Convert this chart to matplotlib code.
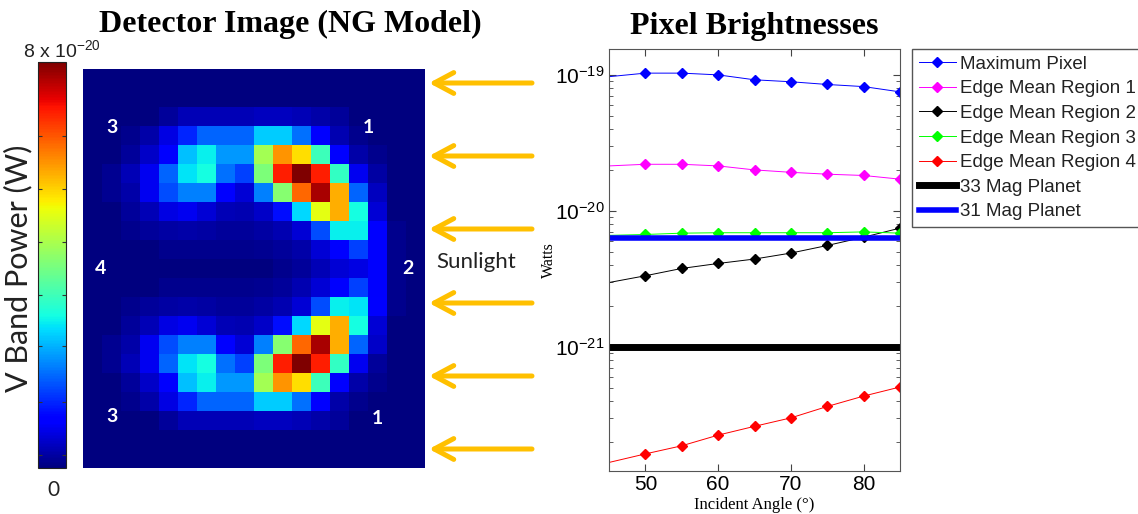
import numpy as np
import matplotlib
matplotlib.use("Agg")
import matplotlib.pyplot as plt
from matplotlib.patches import FancyArrowPatch

W, H = 1138, 514
plt.rcParams['font.family'] = ['Liberation Sans', 'DejaVu Sans']
plt.rcParams['mathtext.fontset'] = 'custom'
plt.rcParams['mathtext.rm'] = 'Liberation Sans'
plt.rcParams['mathtext.it'] = 'Liberation Sans:italic'

# detector image (V band power, units of 1e-20 W), 21 rows x 18 columns
detector = np.array([
    [0, 0, 0, 0, 0, 0, 0, 0, 0, 0, 0, 0, 0, 0, 0, 0, 0, 0],
    [0, 0, 0, 0, 0, 0, 0, 0, 0, 0, 0, 0, 0, 0, 0, 0, 0, 0],
    [0, 0, 0, 0, 0.2, 0.4, 0.4, 0.4, 0.4, 0.45, 0.45, 0.4, 0.3, 0.2, 0, 0, 0, 0],
    [0, 0, 0.1, 0.3, 0.7, 1.3, 1.8, 1.8, 1.8, 2.6, 2.6, 1.9, 1.0, 0.35, 0.1, 0, 0, 0],
    [0, 0, 0.2, 0.5, 1.0, 2.5, 2.9, 2.2, 2.2, 4.4, 6.0, 5.4, 3.4, 1.0, 0.3, 0.1, 0, 0],
    [0, 0.15, 0.4, 0.8, 1.8, 2.8, 3.0, 1.9, 1.5, 4.0, 7.0, 8.0, 7.0, 3.3, 0.8, 0.25, 0, 0],
    [0, 0.15, 0.3, 0.8, 1.6, 2.0, 2.0, 1.0, 0.6, 2.0, 4.1, 6.4, 7.7, 5.8, 1.8, 0.45, 0, 0],
    [0, 0, 0.2, 0.4, 0.7, 0.8, 0.6, 0.4, 0.35, 0.5, 1.1, 2.7, 5.0, 5.8, 3.0, 0.6, 0, 0],
    [0, 0, 0.1, 0.2, 0.25, 0.3, 0.25, 0.2, 0.2, 0.25, 0.35, 0.6, 1.6, 2.9, 2.9, 1.0, 0.1, 0],
    [0, 0, 0, 0, 0.1, 0.1, 0.1, 0.1, 0.1, 0.15, 0.2, 0.3, 0.6, 0.95, 1.5, 0.9, 0.1, 0],
    [0, 0, 0, 0, 0, 0, 0, 0, 0, 0, 0.1, 0.2, 0.4, 0.6, 0.7, 0.9, 0.1, 0],
    [0, 0, 0, 0, 0.1, 0.1, 0.1, 0.1, 0.1, 0.15, 0.2, 0.35, 0.6, 1.0, 1.5, 0.9, 0.1, 0],
    [0, 0, 0.1, 0.2, 0.25, 0.3, 0.25, 0.2, 0.2, 0.25, 0.35, 0.6, 1.6, 2.9, 2.8, 1.0, 0.1, 0],
    [0, 0, 0.2, 0.4, 0.7, 0.8, 0.6, 0.4, 0.35, 0.5, 1.1, 2.7, 5.0, 5.8, 3.0, 0.6, 0, 0],
    [0, 0.15, 0.3, 0.8, 1.6, 2.0, 2.0, 1.0, 0.6, 2.0, 4.1, 6.4, 7.7, 5.8, 1.8, 0.5, 0, 0],
    [0, 0.15, 0.4, 0.8, 1.8, 2.8, 3.0, 1.9, 1.5, 4.0, 7.0, 8.0, 7.0, 3.3, 0.8, 0.2, 0, 0],
    [0, 0, 0.2, 0.5, 1.0, 2.5, 2.9, 2.2, 2.2, 4.4, 6.0, 5.4, 3.4, 1.0, 0.3, 0.1, 0, 0],
    [0, 0, 0.1, 0.3, 0.7, 1.3, 1.8, 1.8, 1.8, 2.6, 2.6, 1.9, 1.0, 0.3, 0.1, 0, 0, 0],
    [0, 0, 0, 0, 0.2, 0.4, 0.4, 0.4, 0.4, 0.45, 0.45, 0.4, 0.3, 0.2, 0, 0, 0, 0],
    [0, 0, 0, 0, 0, 0, 0, 0, 0, 0, 0, 0, 0, 0, 0, 0, 0, 0],
    [0, 0, 0, 0, 0, 0, 0, 0, 0, 0, 0, 0, 0, 0, 0, 0, 0, 0],
])
cbar_ticks = [0.25, 1.3, 2.4, 3.4, 4.45, 5.5, 6.55]
region_labels = ["3", "1", "4", "2", "3", "1"]
region_pos = [(1.0, 2.6), (14.5, 2.6), (0.4, 10.0), (16.6, 10.0), (1.0, 17.8), (15.0, 17.9)]

# pixel brightness vs incident angle (W)
angles = [45, 50, 55, 60, 65, 70, 75, 80, 85]
max_pixel = [9.7e-20, 1.03e-19, 1.03e-19, 1.0e-19, 9.2e-20, 8.9e-20, 8.5e-20, 8.2e-20, 7.5e-20]
edge_r1 = [2.14e-20, 2.2e-20, 2.2e-20, 2.14e-20, 2.0e-20, 1.92e-20, 1.86e-20, 1.82e-20, 1.71e-20]
edge_r2 = [2.97e-21, 3.33e-21, 3.77e-21, 4.1e-21, 4.42e-21, 4.89e-21, 5.56e-21, 6.4e-21, 7.46e-21]
edge_r3 = [6.6e-21, 6.7e-21, 6.85e-21, 6.9e-21, 6.9e-21, 6.9e-21, 6.9e-21, 7.0e-21, 6.85e-21]
edge_r4 = [1.41e-22, 1.63e-22, 1.87e-22, 2.24e-22, 2.6e-22, 3.0e-22, 3.64e-22, 4.34e-22, 5.06e-22]
mag33 = 1.0e-21
mag31 = 6.3e-21

series = [
    ("Maximum Pixel", max_pixel, "#0000ff"),
    ("Edge Mean Region 1", edge_r1, "#ff00ff"),
    ("Edge Mean Region 2", edge_r2, "#000000"),
    ("Edge Mean Region 3", edge_r3, "#00ff00"),
    ("Edge Mean Region 4", edge_r4, "#ff0000"),
]


def fbox(x0, y0, x1, y1):
    # pixel box (top-left origin) -> figure fraction rect
    return [x0 / W, 1 - y1 / H, (x1 - x0) / W, (y1 - y0) / H]


fig = plt.figure(figsize=(W / 100, H / 100), dpi=100)

# ---- detector image ----
ax_img = fig.add_axes(fbox(83.3, 68.7, 425.3, 467.7))
im = ax_img.imshow(detector, cmap="jet", vmin=0, vmax=8, aspect="auto",
                   interpolation="nearest")
ax_img.set_xticks([])
ax_img.set_yticks([])
for s in ax_img.spines.values():
    s.set_visible(False)
for lab, (px, py) in zip(region_labels, region_pos):
    ax_img.text(px, py, lab, color="white", fontsize=14, fontweight="bold",
                ha="center", va="center", family=["Lato", "DejaVu Sans"])

cax = fig.add_axes(fbox(38, 62, 66, 468))
cb = fig.colorbar(im, cax=cax)
cb.set_ticks(cbar_ticks)
cax.tick_params(direction="in", left=True, right=True, labelright=False,
                length=3, width=0.8, color="#333333")
cb.outline.set_edgecolor("#222222")
cb.outline.set_linewidth(0.8)

fig.text(18 / W, 1 - 268 / H, "V Band Power (W)", rotation=90, fontsize=22,
         ha="center", va="center", color="#222222", family=["Lato", "DejaVu Sans"])
fig.text(62 / W, 1 - 50 / H, r"8 x 10$^{-20}$", fontsize=14, ha="center",
         va="center", color="#222222")
fig.text(53 / W, 1 - 490 / H, "0", fontsize=15, ha="center", va="center",
         color="#222222", family=["Lato", "DejaVu Sans"])

fig.text(290 / W, 1 - 24 / H, "Detector Image (NG Model)", fontsize=23,
         fontweight="bold", ha="center", va="center",
         family=["Liberation Serif", "DejaVu Serif"])

# sunlight arrows (figure pixels, origin bottom-left)
for ya in [83, 156, 229, 303, 376, 449]:
    fig.add_artist(FancyArrowPatch(
        posA=(532, H - ya), posB=(429, H - ya), transform=None,
        arrowstyle="->,head_length=14,head_width=7.5", mutation_scale=1,
        lw=3.6, color="#ffc000", shrinkA=0, shrinkB=0,
        capstyle="round", joinstyle="round"))
fig.text(476 / W, 1 - 262 / H, "Sunlight", fontsize=16, ha="center", va="center",
         color="#222222", family=["Lato", "DejaVu Sans"])

# ---- pixel brightnesses ----
ax = fig.add_axes(fbox(609, 49, 900, 471))
for label, vals, col in series:
    ax.plot(angles, vals, color=col, lw=0.7, marker="D", ms=5,
            markevery=slice(1, None), label=label)
ax.axhline(mag33, color="black", lw=5, label="33 Mag Planet")
ax.axhline(mag31, color="#0000ff", lw=4, label="31 Mag Planet")
ax.set_yscale("log")
ax.set_xlim(45, 85)
ax.set_ylim(1.22e-22, 1.55e-19)
ax.set_xticks([50, 60, 70, 80])
ax.tick_params(which="both", direction="in", top=True, right=True,
               labelsize=15, color="#444444", pad=3)
ax.tick_params(which="major", length=5)
ax.tick_params(which="minor", length=3)
for s in ax.spines.values():
    s.set_color("#555555")
ax.set_xlabel("Incident Angle (°)", fontsize=12,
              family=["Liberation Serif", "DejaVu Serif"], labelpad=2)
ax.set_ylabel("Watts", fontsize=11.5,
              family=["Liberation Serif", "DejaVu Serif"], labelpad=-1)
ax.set_title("Pixel Brightnesses", fontsize=23, fontweight="bold",
             family=["Liberation Serif", "DejaVu Serif"], pad=11)

leg = fig.legend(loc="upper left", bbox_to_anchor=(912 / W, 1 - 49 / H),
                 borderaxespad=0, fontsize=13.5, handlelength=2.0,
                 handletextpad=0.2, labelspacing=0.4, borderpad=0.35,
                 fancybox=False, framealpha=1)
leg.get_frame().set_edgecolor("#555555")
leg.get_frame().set_linewidth(1.0)
for t in leg.get_texts():
    t.set_color("#222222")

fig.savefig("out.png", dpi=100)
